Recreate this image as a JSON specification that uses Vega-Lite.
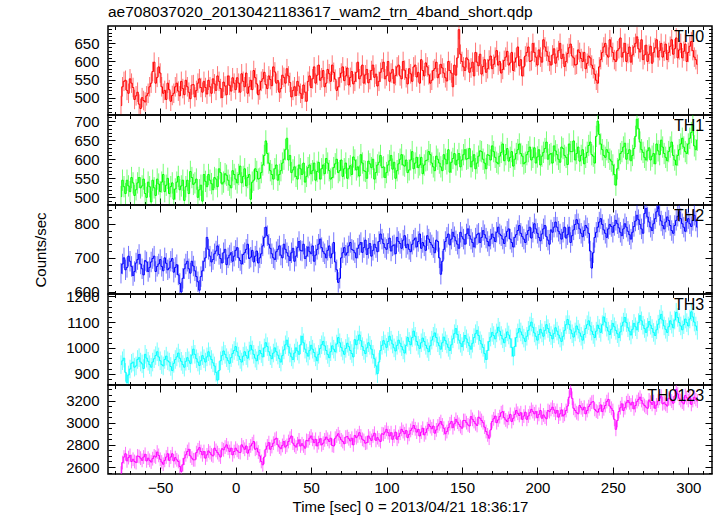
{
"$schema": "https://vega.github.io/schema/vega-lite/v6.json",
"background": "white",
"padding": {"left": 33, "top": 4, "right": 0, "bottom": 0},
"datasets": {
"errs": [{"band":"TH0","err":27},{"band":"TH1","err":28},{"band":"TH2","err":30},{"band":"TH3","err":36},{"band":"TH0123","err":62}],
"rates": [
{"t":-76,"TH0":478,"TH1":502,"TH2":655,"TH3":935,"TH0123":2545},
{"t":-75,"TH0":530,"TH1":545,"TH2":682,"TH3":950,"TH0123":2640},
{"t":-74,"TH0":545,"TH1":528,"TH2":700,"TH3":960,"TH0123":2690},
{"t":-73,"TH0":548,"TH1":510,"TH2":665,"TH3":905,"TH0123":2720},
{"t":-72,"TH0":520,"TH1":545,"TH2":672,"TH3":865,"TH0123":2655},
{"t":-71,"TH0":512,"TH1":530,"TH2":705,"TH3":895,"TH0123":2685},
{"t":-70,"TH0":552,"TH1":515,"TH2":690,"TH3":918,"TH0123":2705},
{"t":-69,"TH0":540,"TH1":552,"TH2":675,"TH3":940,"TH0123":2650},
{"t":-68,"TH0":528,"TH1":538,"TH2":648,"TH3":945,"TH0123":2670},
{"t":-67,"TH0":495,"TH1":505,"TH2":660,"TH3":925,"TH0123":2650},
{"t":-66,"TH0":505,"TH1":520,"TH2":685,"TH3":930,"TH0123":2640},
{"t":-65,"TH0":515,"TH1":538,"TH2":695,"TH3":955,"TH0123":2700},
{"t":-64,"TH0":482,"TH1":552,"TH2":710,"TH3":962,"TH0123":2695},
{"t":-63,"TH0":470,"TH1":525,"TH2":682,"TH3":945,"TH0123":2680},
{"t":-62,"TH0":500,"TH1":530,"TH2":668,"TH3":938,"TH0123":2660},
{"t":-61,"TH0":492,"TH1":548,"TH2":650,"TH3":920,"TH0123":2690},
{"t":-60,"TH0":488,"TH1":510,"TH2":692,"TH3":975,"TH0123":2715},
{"t":-59,"TH0":505,"TH1":500,"TH2":688,"TH3":960,"TH0123":2655},
{"t":-58,"TH0":512,"TH1":540,"TH2":660,"TH3":948,"TH0123":2680},
{"t":-57,"TH0":530,"TH1":528,"TH2":672,"TH3":935,"TH0123":2660},
{"t":-56,"TH0":540,"TH1":488,"TH2":688,"TH3":925,"TH0123":2645},
{"t":-55,"TH0":572,"TH1":545,"TH2":698,"TH3":945,"TH0123":2675},
{"t":-54,"TH0":598,"TH1":525,"TH2":705,"TH3":958,"TH0123":2700},
{"t":-53,"TH0":540,"TH1":505,"TH2":660,"TH3":970,"TH0123":2690},
{"t":-52,"TH0":556,"TH1":548,"TH2":675,"TH3":985,"TH0123":2735},
{"t":-51,"TH0":585,"TH1":535,"TH2":682,"TH3":965,"TH0123":2705},
{"t":-50,"TH0":568,"TH1":515,"TH2":695,"TH3":950,"TH0123":2670},
{"t":-49,"TH0":530,"TH1":540,"TH2":675,"TH3":935,"TH0123":2645},
{"t":-48,"TH0":512,"TH1":560,"TH2":662,"TH3":930,"TH0123":2625},
{"t":-47,"TH0":520,"TH1":515,"TH2":700,"TH3":955,"TH0123":2660},
{"t":-46,"TH0":495,"TH1":532,"TH2":684,"TH3":968,"TH0123":2690},
{"t":-45,"TH0":540,"TH1":550,"TH2":665,"TH3":950,"TH0123":2720},
{"t":-44,"TH0":522,"TH1":510,"TH2":670,"TH3":945,"TH0123":2660},
{"t":-43,"TH0":490,"TH1":528,"TH2":690,"TH3":928,"TH0123":2690},
{"t":-42,"TH0":506,"TH1":538,"TH2":698,"TH3":912,"TH0123":2720},
{"t":-41,"TH0":512,"TH1":495,"TH2":658,"TH3":940,"TH0123":2655},
{"t":-40,"TH0":530,"TH1":522,"TH2":672,"TH3":955,"TH0123":2685},
{"t":-39,"TH0":540,"TH1":540,"TH2":680,"TH3":965,"TH0123":2665},
{"t":-38,"TH0":518,"TH1":555,"TH2":650,"TH3":980,"TH0123":2650},
{"t":-37,"TH0":505,"TH1":520,"TH2":625,"TH3":960,"TH0123":2605},
{"t":-36,"TH0":545,"TH1":530,"TH2":600,"TH3":948,"TH0123":2560},
{"t":-35,"TH0":525,"TH1":545,"TH2":640,"TH3":935,"TH0123":2620},
{"t":-34,"TH0":508,"TH1":492,"TH2":668,"TH3":925,"TH0123":2680},
{"t":-33,"TH0":548,"TH1":528,"TH2":682,"TH3":948,"TH0123":2710},
{"t":-32,"TH0":530,"TH1":545,"TH2":690,"TH3":962,"TH0123":2740},
{"t":-31,"TH0":515,"TH1":510,"TH2":668,"TH3":950,"TH0123":2760},
{"t":-30,"TH0":497,"TH1":568,"TH2":655,"TH3":940,"TH0123":2700},
{"t":-29,"TH0":535,"TH1":552,"TH2":690,"TH3":972,"TH0123":2680},
{"t":-28,"TH0":536,"TH1":534,"TH2":676,"TH3":995,"TH0123":2665},
{"t":-27,"TH0":502,"TH1":538,"TH2":662,"TH3":975,"TH0123":2665},
{"t":-26,"TH0":520,"TH1":548,"TH2":645,"TH3":958,"TH0123":2730},
{"t":-25,"TH0":540,"TH1":500,"TH2":630,"TH3":945,"TH0123":2755},
{"t":-24,"TH0":552,"TH1":520,"TH2":605,"TH3":932,"TH0123":2775},
{"t":-23,"TH0":528,"TH1":532,"TH2":645,"TH3":950,"TH0123":2740},
{"t":-22,"TH0":515,"TH1":490,"TH2":662,"TH3":970,"TH0123":2710},
{"t":-21,"TH0":545,"TH1":560,"TH2":690,"TH3":958,"TH0123":2740},
{"t":-20,"TH0":528,"TH1":542,"TH2":700,"TH3":945,"TH0123":2680},
{"t":-19,"TH0":510,"TH1":528,"TH2":760,"TH3":965,"TH0123":2710},
{"t":-18,"TH0":548,"TH1":560,"TH2":725,"TH3":985,"TH0123":2745},
{"t":-17,"TH0":530,"TH1":545,"TH2":705,"TH3":968,"TH0123":2730},
{"t":-16,"TH0":512,"TH1":536,"TH2":688,"TH3":955,"TH0123":2710},
{"t":-15,"TH0":552,"TH1":520,"TH2":695,"TH3":942,"TH0123":2700},
{"t":-14,"TH0":538,"TH1":552,"TH2":712,"TH3":930,"TH0123":2770},
{"t":-13,"TH0":520,"TH1":548,"TH2":720,"TH3":905,"TH0123":2750},
{"t":-12,"TH0":560,"TH1":528,"TH2":735,"TH3":875,"TH0123":2730},
{"t":-11,"TH0":545,"TH1":575,"TH2":710,"TH3":912,"TH0123":2710},
{"t":-10,"TH0":525,"TH1":565,"TH2":698,"TH3":950,"TH0123":2690},
{"t":-9,"TH0":500,"TH1":535,"TH2":685,"TH3":970,"TH0123":2765},
{"t":-8,"TH0":543,"TH1":540,"TH2":715,"TH3":988,"TH0123":2755},
{"t":-7,"TH0":532,"TH1":562,"TH2":725,"TH3":975,"TH0123":2780},
{"t":-6,"TH0":508,"TH1":558,"TH2":680,"TH3":962,"TH0123":2800},
{"t":-5,"TH0":560,"TH1":545,"TH2":700,"TH3":950,"TH0123":2770},
{"t":-4,"TH0":534,"TH1":532,"TH2":708,"TH3":940,"TH0123":2740},
{"t":-3,"TH0":518,"TH1":525,"TH2":715,"TH3":962,"TH0123":2770},
{"t":-2,"TH0":555,"TH1":570,"TH2":690,"TH3":978,"TH0123":2710},
{"t":-1,"TH0":540,"TH1":560,"TH2":705,"TH3":990,"TH0123":2740},
{"t":0,"TH0":522,"TH1":548,"TH2":722,"TH3":1005,"TH0123":2770},
{"t":1,"TH0":555,"TH1":538,"TH2":730,"TH3":985,"TH0123":2750},
{"t":2,"TH0":540,"TH1":560,"TH2":700,"TH3":968,"TH0123":2735},
{"t":3,"TH0":515,"TH1":582,"TH2":692,"TH3":955,"TH0123":2730},
{"t":4,"TH0":566,"TH1":538,"TH2":682,"TH3":945,"TH0123":2800},
{"t":5,"TH0":545,"TH1":555,"TH2":710,"TH3":968,"TH0123":2780},
{"t":6,"TH0":530,"TH1":575,"TH2":715,"TH3":985,"TH0123":2760},
{"t":7,"TH0":568,"TH1":530,"TH2":725,"TH3":970,"TH0123":2790},
{"t":8,"TH0":512,"TH1":552,"TH2":740,"TH3":960,"TH0123":2725},
{"t":9,"TH0":530,"TH1":560,"TH2":698,"TH3":988,"TH0123":2755},
{"t":10,"TH0":548,"TH1":495,"TH2":702,"TH3":1010,"TH0123":2790},
{"t":11,"TH0":522,"TH1":540,"TH2":722,"TH3":992,"TH0123":2810},
{"t":12,"TH0":575,"TH1":545,"TH2":688,"TH3":975,"TH0123":2830},
{"t":13,"TH0":555,"TH1":575,"TH2":705,"TH3":960,"TH0123":2760},
{"t":14,"TH0":538,"TH1":568,"TH2":720,"TH3":950,"TH0123":2770},
{"t":15,"TH0":508,"TH1":548,"TH2":685,"TH3":972,"TH0123":2735},
{"t":16,"TH0":521,"TH1":550,"TH2":700,"TH3":990,"TH0123":2700},
{"t":17,"TH0":545,"TH1":565,"TH2":712,"TH3":978,"TH0123":2650},
{"t":18,"TH0":552,"TH1":585,"TH2":735,"TH3":965,"TH0123":2620},
{"t":19,"TH0":570,"TH1":610,"TH2":760,"TH3":1000,"TH0123":2690},
{"t":20,"TH0":536,"TH1":648,"TH2":790,"TH3":1020,"TH0123":2760},
{"t":21,"TH0":525,"TH1":615,"TH2":765,"TH3":1005,"TH0123":2790},
{"t":22,"TH0":560,"TH1":590,"TH2":740,"TH3":985,"TH0123":2820},
{"t":23,"TH0":550,"TH1":570,"TH2":728,"TH3":970,"TH0123":2760},
{"t":24,"TH0":533,"TH1":560,"TH2":712,"TH3":958,"TH0123":2785},
{"t":25,"TH0":585,"TH1":548,"TH2":700,"TH3":980,"TH0123":2815},
{"t":26,"TH0":571,"TH1":575,"TH2":695,"TH3":1000,"TH0123":2850},
{"t":27,"TH0":540,"TH1":585,"TH2":718,"TH3":985,"TH0123":2860},
{"t":28,"TH0":547,"TH1":545,"TH2":725,"TH3":972,"TH0123":2800},
{"t":29,"TH0":515,"TH1":560,"TH2":735,"TH3":958,"TH0123":2780},
{"t":30,"TH0":525,"TH1":570,"TH2":708,"TH3":945,"TH0123":2765},
{"t":31,"TH0":562,"TH1":590,"TH2":700,"TH3":970,"TH0123":2795},
{"t":32,"TH0":556,"TH1":600,"TH2":740,"TH3":992,"TH0123":2830},
{"t":33,"TH0":540,"TH1":625,"TH2":725,"TH3":1012,"TH0123":2780},
{"t":34,"TH0":580,"TH1":655,"TH2":715,"TH3":1030,"TH0123":2795},
{"t":35,"TH0":560,"TH1":598,"TH2":705,"TH3":1005,"TH0123":2830},
{"t":36,"TH0":542,"TH1":610,"TH2":692,"TH3":980,"TH0123":2860},
{"t":37,"TH0":502,"TH1":565,"TH2":715,"TH3":965,"TH0123":2880},
{"t":38,"TH0":520,"TH1":572,"TH2":728,"TH3":955,"TH0123":2815},
{"t":39,"TH0":530,"TH1":580,"TH2":690,"TH3":980,"TH0123":2795},
{"t":40,"TH0":506,"TH1":555,"TH2":705,"TH3":1000,"TH0123":2780},
{"t":41,"TH0":545,"TH1":548,"TH2":730,"TH3":988,"TH0123":2810},
{"t":42,"TH0":532,"TH1":585,"TH2":748,"TH3":975,"TH0123":2845},
{"t":43,"TH0":512,"TH1":575,"TH2":722,"TH3":1012,"TH0123":2790},
{"t":44,"TH0":498,"TH1":560,"TH2":720,"TH3":1045,"TH0123":2810},
{"t":45,"TH0":535,"TH1":590,"TH2":740,"TH3":1020,"TH0123":2790},
{"t":46,"TH0":515,"TH1":540,"TH2":698,"TH3":995,"TH0123":2770},
{"t":47,"TH0":490,"TH1":555,"TH2":705,"TH3":980,"TH0123":2840},
{"t":48,"TH0":545,"TH1":578,"TH2":732,"TH3":968,"TH0123":2835},
{"t":49,"TH0":560,"TH1":585,"TH2":718,"TH3":990,"TH0123":2860},
{"t":50,"TH0":528,"TH1":562,"TH2":712,"TH3":1010,"TH0123":2880},
{"t":51,"TH0":552,"TH1":570,"TH2":735,"TH3":995,"TH0123":2850},
{"t":52,"TH0":585,"TH1":590,"TH2":690,"TH3":982,"TH0123":2820},
{"t":53,"TH0":540,"TH1":545,"TH2":708,"TH3":965,"TH0123":2850},
{"t":54,"TH0":562,"TH1":568,"TH2":725,"TH3":950,"TH0123":2790},
{"t":55,"TH0":590,"TH1":592,"TH2":740,"TH3":975,"TH0123":2820},
{"t":56,"TH0":548,"TH1":548,"TH2":755,"TH3":998,"TH0123":2855},
{"t":57,"TH0":555,"TH1":575,"TH2":730,"TH3":1012,"TH0123":2800},
{"t":58,"TH0":575,"TH1":585,"TH2":718,"TH3":1025,"TH0123":2815},
{"t":59,"TH0":530,"TH1":562,"TH2":712,"TH3":1008,"TH0123":2845},
{"t":60,"TH0":540,"TH1":602,"TH2":700,"TH3":990,"TH0123":2870},
{"t":61,"TH0":578,"TH1":590,"TH2":722,"TH3":975,"TH0123":2850},
{"t":62,"TH0":566,"TH1":570,"TH2":735,"TH3":962,"TH0123":2830},
{"t":63,"TH0":545,"TH1":548,"TH2":700,"TH3":985,"TH0123":2860},
{"t":64,"TH0":590,"TH1":552,"TH2":712,"TH3":1008,"TH0123":2795},
{"t":65,"TH0":570,"TH1":578,"TH2":745,"TH3":995,"TH0123":2790},
{"t":66,"TH0":551,"TH1":588,"TH2":688,"TH3":985,"TH0123":2860},
{"t":67,"TH0":520,"TH1":600,"TH2":665,"TH3":1015,"TH0123":2880},
{"t":68,"TH0":530,"TH1":565,"TH2":628,"TH3":1040,"TH0123":2900},
{"t":69,"TH0":555,"TH1":570,"TH2":640,"TH3":1020,"TH0123":2870},
{"t":70,"TH0":568,"TH1":598,"TH2":700,"TH3":1002,"TH0123":2845},
{"t":71,"TH0":585,"TH1":555,"TH2":715,"TH3":988,"TH0123":2830},
{"t":72,"TH0":547,"TH1":575,"TH2":730,"TH3":975,"TH0123":2810},
{"t":73,"TH0":560,"TH1":590,"TH2":708,"TH3":998,"TH0123":2870},
{"t":74,"TH0":582,"TH1":550,"TH2":715,"TH3":1018,"TH0123":2875},
{"t":75,"TH0":535,"TH1":575,"TH2":735,"TH3":1005,"TH0123":2855},
{"t":76,"TH0":556,"TH1":583,"TH2":745,"TH3":990,"TH0123":2835},
{"t":77,"TH0":572,"TH1":560,"TH2":725,"TH3":978,"TH0123":2860},
{"t":78,"TH0":538,"TH1":606,"TH2":722,"TH3":965,"TH0123":2800},
{"t":79,"TH0":545,"TH1":598,"TH2":715,"TH3":1032,"TH0123":2885},
{"t":80,"TH0":570,"TH1":572,"TH2":700,"TH3":1012,"TH0123":2865},
{"t":81,"TH0":598,"TH1":580,"TH2":728,"TH3":1030,"TH0123":2880},
{"t":82,"TH0":552,"TH1":556,"TH2":738,"TH3":1050,"TH0123":2910},
{"t":83,"TH0":560,"TH1":612,"TH2":745,"TH3":1028,"TH0123":2880},
{"t":84,"TH0":590,"TH1":590,"TH2":716,"TH3":1005,"TH0123":2850},
{"t":85,"TH0":540,"TH1":570,"TH2":730,"TH3":990,"TH0123":2840},
{"t":86,"TH0":563,"TH1":568,"TH2":752,"TH3":978,"TH0123":2815},
{"t":87,"TH0":578,"TH1":550,"TH2":710,"TH3":1000,"TH0123":2820},
{"t":88,"TH0":541,"TH1":595,"TH2":728,"TH3":1020,"TH0123":2880},
{"t":89,"TH0":550,"TH1":588,"TH2":742,"TH3":1010,"TH0123":2860},
{"t":90,"TH0":575,"TH1":578,"TH2":705,"TH3":995,"TH0123":2840},
{"t":91,"TH0":590,"TH1":600,"TH2":722,"TH3":975,"TH0123":2880},
{"t":92,"TH0":556,"TH1":548,"TH2":740,"TH3":958,"TH0123":2905},
{"t":93,"TH0":565,"TH1":565,"TH2":730,"TH3":930,"TH0123":2840},
{"t":94,"TH0":532,"TH1":585,"TH2":718,"TH3":900,"TH0123":2865},
{"t":95,"TH0":545,"TH1":592,"TH2":748,"TH3":945,"TH0123":2845},
{"t":96,"TH0":570,"TH1":610,"TH2":770,"TH3":990,"TH0123":2830},
{"t":97,"TH0":580,"TH1":578,"TH2":755,"TH3":1010,"TH0123":2900},
{"t":98,"TH0":598,"TH1":580,"TH2":742,"TH3":1028,"TH0123":2895},
{"t":99,"TH0":552,"TH1":552,"TH2":730,"TH3":1015,"TH0123":2915},
{"t":100,"TH0":560,"TH1":565,"TH2":725,"TH3":1002,"TH0123":2940},
{"t":101,"TH0":600,"TH1":585,"TH2":742,"TH3":1025,"TH0123":2910},
{"t":102,"TH0":545,"TH1":596,"TH2":758,"TH3":1045,"TH0123":2880},
{"t":103,"TH0":568,"TH1":610,"TH2":720,"TH3":1030,"TH0123":2910},
{"t":104,"TH0":578,"TH1":574,"TH2":735,"TH3":1015,"TH0123":2850},
{"t":105,"TH0":540,"TH1":592,"TH2":738,"TH3":1000,"TH0123":2880},
{"t":106,"TH0":561,"TH1":550,"TH2":712,"TH3":988,"TH0123":2915},
{"t":107,"TH0":585,"TH1":570,"TH2":760,"TH3":1010,"TH0123":2850},
{"t":108,"TH0":590,"TH1":588,"TH2":748,"TH3":1030,"TH0123":2875},
{"t":109,"TH0":560,"TH1":600,"TH2":742,"TH3":1018,"TH0123":2905},
{"t":110,"TH0":552,"TH1":612,"TH2":728,"TH3":1005,"TH0123":2940},
{"t":111,"TH0":600,"TH1":585,"TH2":752,"TH3":992,"TH0123":2920},
{"t":112,"TH0":576,"TH1":582,"TH2":765,"TH3":980,"TH0123":2900},
{"t":113,"TH0":555,"TH1":598,"TH2":730,"TH3":1010,"TH0123":2930},
{"t":114,"TH0":538,"TH1":565,"TH2":740,"TH3":1040,"TH0123":2865},
{"t":115,"TH0":580,"TH1":572,"TH2":725,"TH3":1025,"TH0123":2895},
{"t":116,"TH0":566,"TH1":598,"TH2":718,"TH3":1012,"TH0123":2930},
{"t":117,"TH0":545,"TH1":620,"TH2":740,"TH3":1040,"TH0123":2950},
{"t":118,"TH0":585,"TH1":575,"TH2":752,"TH3":1065,"TH0123":2975},
{"t":119,"TH0":590,"TH1":590,"TH2":758,"TH3":1045,"TH0123":2945},
{"t":120,"TH0":557,"TH1":605,"TH2":732,"TH3":1025,"TH0123":2915},
{"t":121,"TH0":570,"TH1":578,"TH2":748,"TH3":1010,"TH0123":2940},
{"t":122,"TH0":540,"TH1":585,"TH2":770,"TH3":998,"TH0123":2880},
{"t":123,"TH0":605,"TH1":605,"TH2":728,"TH3":1020,"TH0123":2915},
{"t":124,"TH0":575,"TH1":562,"TH2":745,"TH3":1038,"TH0123":2950},
{"t":125,"TH0":560,"TH1":585,"TH2":735,"TH3":1025,"TH0123":2890},
{"t":126,"TH0":596,"TH1":596,"TH2":722,"TH3":1010,"TH0123":2910},
{"t":127,"TH0":585,"TH1":598,"TH2":765,"TH3":998,"TH0123":2945},
{"t":128,"TH0":563,"TH1":620,"TH2":755,"TH3":985,"TH0123":2985},
{"t":129,"TH0":540,"TH1":612,"TH2":745,"TH3":1008,"TH0123":2965},
{"t":130,"TH0":548,"TH1":590,"TH2":738,"TH3":1030,"TH0123":2945},
{"t":131,"TH0":575,"TH1":580,"TH2":730,"TH3":1045,"TH0123":2970},
{"t":132,"TH0":580,"TH1":570,"TH2":715,"TH3":1058,"TH0123":2905},
{"t":133,"TH0":598,"TH1":608,"TH2":752,"TH3":1040,"TH0123":2935},
{"t":134,"TH0":555,"TH1":600,"TH2":748,"TH3":1020,"TH0123":2970},
{"t":135,"TH0":565,"TH1":590,"TH2":700,"TH3":1008,"TH0123":2990},
{"t":136,"TH0":592,"TH1":580,"TH2":652,"TH3":995,"TH0123":3010},
{"t":137,"TH0":582,"TH1":570,"TH2":690,"TH3":1020,"TH0123":2980},
{"t":138,"TH0":568,"TH1":612,"TH2":725,"TH3":1042,"TH0123":2950},
{"t":139,"TH0":555,"TH1":600,"TH2":748,"TH3":1028,"TH0123":2900},
{"t":140,"TH0":546,"TH1":588,"TH2":760,"TH3":1015,"TH0123":2920},
{"t":141,"TH0":600,"TH1":625,"TH2":770,"TH3":1002,"TH0123":2955},
{"t":142,"TH0":575,"TH1":566,"TH2":738,"TH3":990,"TH0123":2990},
{"t":143,"TH0":568,"TH1":592,"TH2":755,"TH3":1012,"TH0123":3010},
{"t":144,"TH0":530,"TH1":602,"TH2":775,"TH3":1035,"TH0123":2955},
{"t":145,"TH0":590,"TH1":615,"TH2":762,"TH3":1055,"TH0123":2990},
{"t":146,"TH0":562,"TH1":585,"TH2":750,"TH3":1075,"TH0123":3030},
{"t":147,"TH0":610,"TH1":598,"TH2":740,"TH3":1052,"TH0123":3005},
{"t":148,"TH0":688,"TH1":615,"TH2":728,"TH3":1030,"TH0123":2985},
{"t":149,"TH0":620,"TH1":580,"TH2":775,"TH3":1018,"TH0123":2965},
{"t":150,"TH0":600,"TH1":598,"TH2":762,"TH3":1005,"TH0123":2950},
{"t":151,"TH0":585,"TH1":612,"TH2":755,"TH3":1025,"TH0123":3020},
{"t":152,"TH0":575,"TH1":625,"TH2":740,"TH3":1048,"TH0123":3020},
{"t":153,"TH0":610,"TH1":600,"TH2":770,"TH3":1035,"TH0123":3000},
{"t":154,"TH0":605,"TH1":602,"TH2":785,"TH3":1020,"TH0123":2980},
{"t":155,"TH0":570,"TH1":628,"TH2":765,"TH3":1008,"TH0123":2970},
{"t":156,"TH0":582,"TH1":580,"TH2":755,"TH3":995,"TH0123":3055},
{"t":157,"TH0":598,"TH1":595,"TH2":745,"TH3":1018,"TH0123":3030},
{"t":158,"TH0":560,"TH1":612,"TH2":732,"TH3":1040,"TH0123":3010},
{"t":159,"TH0":625,"TH1":575,"TH2":758,"TH3":1055,"TH0123":2990},
{"t":160,"TH0":598,"TH1":590,"TH2":768,"TH3":1068,"TH0123":2975},
{"t":161,"TH0":588,"TH1":608,"TH2":772,"TH3":1048,"TH0123":3050},
{"t":162,"TH0":620,"TH1":622,"TH2":745,"TH3":1028,"TH0123":3040},
{"t":163,"TH0":565,"TH1":620,"TH2":760,"TH3":1015,"TH0123":3020},
{"t":164,"TH0":586,"TH1":600,"TH2":780,"TH3":1002,"TH0123":3000},
{"t":165,"TH0":605,"TH1":590,"TH2":768,"TH3":978,"TH0123":2960},
{"t":166,"TH0":570,"TH1":575,"TH2":758,"TH3":955,"TH0123":2920},
{"t":167,"TH0":580,"TH1":612,"TH2":748,"TH3":990,"TH0123":2890},
{"t":168,"TH0":604,"TH1":610,"TH2":735,"TH3":1025,"TH0123":2860},
{"t":169,"TH0":615,"TH1":598,"TH2":755,"TH3":1042,"TH0123":2935},
{"t":170,"TH0":580,"TH1":635,"TH2":770,"TH3":1060,"TH0123":3010},
{"t":171,"TH0":592,"TH1":620,"TH2":760,"TH3":1048,"TH0123":3035},
{"t":172,"TH0":612,"TH1":605,"TH2":748,"TH3":1035,"TH0123":3060},
{"t":173,"TH0":630,"TH1":592,"TH2":775,"TH3":1058,"TH0123":3000},
{"t":174,"TH0":590,"TH1":588,"TH2":790,"TH3":1080,"TH0123":3025},
{"t":175,"TH0":600,"TH1":608,"TH2":770,"TH3":1065,"TH0123":3055},
{"t":176,"TH0":568,"TH1":618,"TH2":765,"TH3":1048,"TH0123":3090},
{"t":177,"TH0":578,"TH1":640,"TH2":755,"TH3":1035,"TH0123":3100},
{"t":178,"TH0":603,"TH1":596,"TH2":742,"TH3":1020,"TH0123":3045},
{"t":179,"TH0":612,"TH1":612,"TH2":762,"TH3":1040,"TH0123":3025},
{"t":180,"TH0":628,"TH1":628,"TH2":778,"TH3":1062,"TH0123":3010},
{"t":181,"TH0":590,"TH1":595,"TH2":785,"TH3":1050,"TH0123":3040},
{"t":182,"TH0":596,"TH1":605,"TH2":755,"TH3":1035,"TH0123":3075},
{"t":183,"TH0":625,"TH1":620,"TH2":745,"TH3":1002,"TH0123":3010},
{"t":184,"TH0":575,"TH1":582,"TH2":732,"TH3":968,"TH0123":3040},
{"t":185,"TH0":598,"TH1":600,"TH2":760,"TH3":1005,"TH0123":3075},
{"t":186,"TH0":610,"TH1":615,"TH2":768,"TH3":1040,"TH0123":3110},
{"t":187,"TH0":640,"TH1":625,"TH2":780,"TH3":1058,"TH0123":3085},
{"t":188,"TH0":588,"TH1":640,"TH2":795,"TH3":1075,"TH0123":3065},
{"t":189,"TH0":605,"TH1":615,"TH2":772,"TH3":1062,"TH0123":3090},
{"t":190,"TH0":560,"TH1":608,"TH2":762,"TH3":1050,"TH0123":3030},
{"t":191,"TH0":585,"TH1":588,"TH2":755,"TH3":1038,"TH0123":3060},
{"t":192,"TH0":615,"TH1":592,"TH2":745,"TH3":1025,"TH0123":3095},
{"t":193,"TH0":625,"TH1":612,"TH2":768,"TH3":1045,"TH0123":3030},
{"t":194,"TH0":640,"TH1":620,"TH2":780,"TH3":1068,"TH0123":3060},
{"t":195,"TH0":600,"TH1":632,"TH2":790,"TH3":1085,"TH0123":3090},
{"t":196,"TH0":602,"TH1":598,"TH2":758,"TH3":1100,"TH0123":3120},
{"t":197,"TH0":650,"TH1":605,"TH2":775,"TH3":1080,"TH0123":3100},
{"t":198,"TH0":625,"TH1":630,"TH2":800,"TH3":1058,"TH0123":3080},
{"t":199,"TH0":612,"TH1":590,"TH2":785,"TH3":1045,"TH0123":3100},
{"t":200,"TH0":590,"TH1":606,"TH2":772,"TH3":1030,"TH0123":3045},
{"t":201,"TH0":632,"TH1":625,"TH2":760,"TH3":1052,"TH0123":3075},
{"t":202,"TH0":612,"TH1":585,"TH2":750,"TH3":1072,"TH0123":3110},
{"t":203,"TH0":598,"TH1":608,"TH2":770,"TH3":1058,"TH0123":3040},
{"t":204,"TH0":660,"TH1":618,"TH2":785,"TH3":1045,"TH0123":3070},
{"t":205,"TH0":640,"TH1":628,"TH2":795,"TH3":1068,"TH0123":3050},
{"t":206,"TH0":628,"TH1":645,"TH2":762,"TH3":1090,"TH0123":3035},
{"t":207,"TH0":615,"TH1":600,"TH2":752,"TH3":1075,"TH0123":3110},
{"t":208,"TH0":600,"TH1":612,"TH2":740,"TH3":1060,"TH0123":3100},
{"t":209,"TH0":590,"TH1":615,"TH2":782,"TH3":1048,"TH0123":3120},
{"t":210,"TH0":618,"TH1":590,"TH2":775,"TH3":1035,"TH0123":3140},
{"t":211,"TH0":635,"TH1":635,"TH2":790,"TH3":1055,"TH0123":3115},
{"t":212,"TH0":595,"TH1":622,"TH2":805,"TH3":1078,"TH0123":3085},
{"t":213,"TH0":612,"TH1":612,"TH2":790,"TH3":1065,"TH0123":3110},
{"t":214,"TH0":630,"TH1":600,"TH2":778,"TH3":1050,"TH0123":3050},
{"t":215,"TH0":650,"TH1":592,"TH2":770,"TH3":1038,"TH0123":3080},
{"t":216,"TH0":608,"TH1":632,"TH2":755,"TH3":1025,"TH0123":3115},
{"t":217,"TH0":620,"TH1":628,"TH2":775,"TH3":1045,"TH0123":3060},
{"t":218,"TH0":586,"TH1":610,"TH2":790,"TH3":1068,"TH0123":3075},
{"t":219,"TH0":600,"TH1":605,"TH2":758,"TH3":1090,"TH0123":3110},
{"t":220,"TH0":622,"TH1":586,"TH2":768,"TH3":1110,"TH0123":3150},
{"t":221,"TH0":638,"TH1":640,"TH2":790,"TH3":1090,"TH0123":3230},
{"t":222,"TH0":648,"TH1":620,"TH2":745,"TH3":1070,"TH0123":3310},
{"t":223,"TH0":615,"TH1":620,"TH2":765,"TH3":1055,"TH0123":3220},
{"t":224,"TH0":610,"TH1":648,"TH2":782,"TH3":1042,"TH0123":3130},
{"t":225,"TH0":590,"TH1":598,"TH2":798,"TH3":1062,"TH0123":3110},
{"t":226,"TH0":592,"TH1":615,"TH2":812,"TH3":1085,"TH0123":3090},
{"t":227,"TH0":632,"TH1":632,"TH2":800,"TH3":1072,"TH0123":3080},
{"t":228,"TH0":625,"TH1":595,"TH2":785,"TH3":1058,"TH0123":3155},
{"t":229,"TH0":608,"TH1":610,"TH2":772,"TH3":1045,"TH0123":3135},
{"t":230,"TH0":600,"TH1":625,"TH2":762,"TH3":1030,"TH0123":3115},
{"t":231,"TH0":625,"TH1":588,"TH2":780,"TH3":1052,"TH0123":3140},
{"t":232,"TH0":580,"TH1":605,"TH2":795,"TH3":1075,"TH0123":3080},
{"t":233,"TH0":595,"TH1":618,"TH2":788,"TH3":1090,"TH0123":3110},
{"t":234,"TH0":615,"TH1":636,"TH2":772,"TH3":1105,"TH0123":3145},
{"t":235,"TH0":610,"TH1":645,"TH2":720,"TH3":1085,"TH0123":3165},
{"t":236,"TH0":590,"TH1":612,"TH2":670,"TH3":1065,"TH0123":3185},
{"t":237,"TH0":580,"TH1":608,"TH2":715,"TH3":1052,"TH0123":3190},
{"t":238,"TH0":565,"TH1":590,"TH2":760,"TH3":1040,"TH0123":3120},
{"t":239,"TH0":548,"TH1":660,"TH2":775,"TH3":1065,"TH0123":3105},
{"t":240,"TH0":540,"TH1":700,"TH2":790,"TH3":1088,"TH0123":3095},
{"t":241,"TH0":585,"TH1":665,"TH2":805,"TH3":1075,"TH0123":3125},
{"t":242,"TH0":605,"TH1":640,"TH2":815,"TH3":1060,"TH0123":3160},
{"t":243,"TH0":625,"TH1":625,"TH2":798,"TH3":1090,"TH0123":3100},
{"t":244,"TH0":640,"TH1":610,"TH2":782,"TH3":1120,"TH0123":3125},
{"t":245,"TH0":650,"TH1":605,"TH2":772,"TH3":1100,"TH0123":3155},
{"t":246,"TH0":618,"TH1":625,"TH2":760,"TH3":1080,"TH0123":3190},
{"t":247,"TH0":612,"TH1":618,"TH2":785,"TH3":1065,"TH0123":3210},
{"t":248,"TH0":660,"TH1":600,"TH2":798,"TH3":1052,"TH0123":3150},
{"t":249,"TH0":640,"TH1":595,"TH2":792,"TH3":1072,"TH0123":3130},
{"t":250,"TH0":625,"TH1":585,"TH2":775,"TH3":1095,"TH0123":3110},
{"t":251,"TH0":605,"TH1":560,"TH2":795,"TH3":1082,"TH0123":3030},
{"t":252,"TH0":600,"TH1":532,"TH2":810,"TH3":1068,"TH0123":2940},
{"t":253,"TH0":630,"TH1":575,"TH2":800,"TH3":1055,"TH0123":3020},
{"t":254,"TH0":635,"TH1":598,"TH2":788,"TH3":1040,"TH0123":3100},
{"t":255,"TH0":665,"TH1":615,"TH2":775,"TH3":1062,"TH0123":3135},
{"t":256,"TH0":612,"TH1":620,"TH2":765,"TH3":1085,"TH0123":3170},
{"t":257,"TH0":625,"TH1":632,"TH2":785,"TH3":1100,"TH0123":3110},
{"t":258,"TH0":650,"TH1":642,"TH2":800,"TH3":1118,"TH0123":3135},
{"t":259,"TH0":600,"TH1":600,"TH2":790,"TH3":1098,"TH0123":3180},
{"t":260,"TH0":622,"TH1":615,"TH2":778,"TH3":1078,"TH0123":3200},
{"t":261,"TH0":640,"TH1":625,"TH2":768,"TH3":1065,"TH0123":3180},
{"t":262,"TH0":598,"TH1":596,"TH2":755,"TH3":1050,"TH0123":3160},
{"t":263,"TH0":618,"TH1":610,"TH2":775,"TH3":1072,"TH0123":3185},
{"t":264,"TH0":640,"TH1":628,"TH2":792,"TH3":1095,"TH0123":3125},
{"t":265,"TH0":650,"TH1":660,"TH2":808,"TH3":1082,"TH0123":3155},
{"t":266,"TH0":668,"TH1":705,"TH2":825,"TH3":1070,"TH0123":3190},
{"t":267,"TH0":635,"TH1":680,"TH2":812,"TH3":1098,"TH0123":3210},
{"t":268,"TH0":626,"TH1":645,"TH2":798,"TH3":1125,"TH0123":3230},
{"t":269,"TH0":660,"TH1":625,"TH2":785,"TH3":1105,"TH0123":3200},
{"t":270,"TH0":605,"TH1":618,"TH2":772,"TH3":1088,"TH0123":3170},
{"t":271,"TH0":618,"TH1":605,"TH2":830,"TH3":1075,"TH0123":3155},
{"t":272,"TH0":645,"TH1":598,"TH2":845,"TH3":1060,"TH0123":3140},
{"t":273,"TH0":600,"TH1":622,"TH2":820,"TH3":1080,"TH0123":3130},
{"t":274,"TH0":620,"TH1":630,"TH2":805,"TH3":1102,"TH0123":3205},
{"t":275,"TH0":642,"TH1":598,"TH2":790,"TH3":1088,"TH0123":3185},
{"t":276,"TH0":595,"TH1":608,"TH2":780,"TH3":1075,"TH0123":3165},
{"t":277,"TH0":625,"TH1":615,"TH2":800,"TH3":1060,"TH0123":3190},
{"t":278,"TH0":638,"TH1":588,"TH2":815,"TH3":1048,"TH0123":3130},
{"t":279,"TH0":660,"TH1":640,"TH2":835,"TH3":1070,"TH0123":3160},
{"t":280,"TH0":612,"TH1":622,"TH2":850,"TH3":1092,"TH0123":3195},
{"t":281,"TH0":630,"TH1":612,"TH2":825,"TH3":1112,"TH0123":3220},
{"t":282,"TH0":650,"TH1":650,"TH2":808,"TH3":1130,"TH0123":3240},
{"t":283,"TH0":612,"TH1":632,"TH2":795,"TH3":1108,"TH0123":3170},
{"t":284,"TH0":628,"TH1":615,"TH2":785,"TH3":1085,"TH0123":3180},
{"t":285,"TH0":648,"TH1":605,"TH2":805,"TH3":1072,"TH0123":3165},
{"t":286,"TH0":605,"TH1":596,"TH2":820,"TH3":1060,"TH0123":3150},
{"t":287,"TH0":625,"TH1":620,"TH2":810,"TH3":1082,"TH0123":3220},
{"t":288,"TH0":642,"TH1":632,"TH2":795,"TH3":1105,"TH0123":3215},
{"t":289,"TH0":660,"TH1":645,"TH2":780,"TH3":1092,"TH0123":3195},
{"t":290,"TH0":620,"TH1":610,"TH2":772,"TH3":1078,"TH0123":3175},
{"t":291,"TH0":635,"TH1":598,"TH2":795,"TH3":1108,"TH0123":3240},
{"t":292,"TH0":665,"TH1":585,"TH2":810,"TH3":1138,"TH0123":3300},
{"t":293,"TH0":610,"TH1":610,"TH2":822,"TH3":1118,"TH0123":3260},
{"t":294,"TH0":632,"TH1":625,"TH2":835,"TH3":1098,"TH0123":3220},
{"t":295,"TH0":650,"TH1":640,"TH2":815,"TH3":1085,"TH0123":3200},
{"t":296,"TH0":610,"TH1":655,"TH2":800,"TH3":1070,"TH0123":3185},
{"t":297,"TH0":628,"TH1":632,"TH2":790,"TH3":1090,"TH0123":3170},
{"t":298,"TH0":648,"TH1":620,"TH2":778,"TH3":1112,"TH0123":3245},
{"t":299,"TH0":600,"TH1":615,"TH2":805,"TH3":1098,"TH0123":3225},
{"t":300,"TH0":625,"TH1":640,"TH2":815,"TH3":1085,"TH0123":3200},
{"t":301,"TH0":642,"TH1":655,"TH2":800,"TH3":1112,"TH0123":3230},
{"t":302,"TH0":655,"TH1":670,"TH2":792,"TH3":1140,"TH0123":3165},
{"t":303,"TH0":630,"TH1":690,"TH2":810,"TH3":1120,"TH0123":3200},
{"t":304,"TH0":612,"TH1":635,"TH2":825,"TH3":1100,"TH0123":3230},
{"t":305,"TH0":605,"TH1":625,"TH2":808,"TH3":1085,"TH0123":3210},
{"t":306,"TH0":592,"TH1":650,"TH2":790,"TH3":1068,"TH0123":3195}
]
},
"data": {"name": "rates"},
"transform": [
 {"fold": ["TH0","TH1","TH2","TH3","TH0123"], "as": ["band","rate"]},
 {"lookup": "band", "from": {"data": {"name": "errs"}, "key": "band", "fields": ["err"]}}
],
"spacing": 0,
"bounds": "flush",
"vconcat": [
 {
  "width": 604, "height": 89,
  "title": {"text": "ae708037020_20130421183617_wam2_trn_4band_short.qdp", "anchor": "start", "frame": "group", "fontSize": 15.5, "fontWeight": "normal", "font": "Liberation Sans", "color": "#000", "offset": 5},
  "transform": [{"filter": "datum.band === 'TH0'"}],
  "layer": [
   {"mark": {"type": "errorbar", "ticks": false, "color": "#ff0000", "opacity": 0.55, "clip": true},
    "encoding": {
     "x": {"field": "t", "type": "quantitative", "scale": {"domain": [-84.6, 315.7], "nice": false, "zero": false}, "axis": null},
     "y": {"field": "rate", "type": "quantitative", "scale": {"domain": [452, 698], "nice": false, "zero": false}, "axis": {"orient": "left", "values": [500,550,600,650], "format": "d", "ticks": false, "domain": false, "grid": false, "labelPadding": 9, "title": null}},
     "yError": {"field": "err"}}},
   {"mark": {"type": "line", "interpolate": "step", "color": "#ff0000", "strokeWidth": 1, "clip": true},
    "encoding": {
     "x": {"field": "t", "type": "quantitative", "axis": {"orient": "bottom", "values": [-50,0,50,100,150,200,250,300], "labels": false, "domain": false, "grid": false, "tickSize": -7, "title": null}},
     "y": {"field": "rate", "type": "quantitative", "axis": {"orient": "left", "values": [500,550,600,650], "labels": false, "domain": false, "grid": false, "tickSize": -7, "title": null}}}},
   {"mark": {"type": "point", "opacity": 0},
    "encoding": {
     "x": {"field": "t", "type": "quantitative", "axis": {"orient": "top", "values": [-50,0,50,100,150,200,250,300], "labels": false, "domain": false, "grid": false, "tickSize": -7, "title": null}},
     "y": {"field": "rate", "type": "quantitative", "axis": {"orient": "right", "values": [500,550,600,650], "labels": false, "domain": false, "grid": false, "tickSize": -7, "title": null}}}},
   {"mark": {"type": "point", "opacity": 0},
    "encoding": {
     "x": {"field": "t", "type": "quantitative", "axis": {"orient": "bottom", "values": [-80,-70,-60,-40,-30,-20,-10,10,20,30,40,60,70,80,90,110,120,130,140,160,170,180,190,210,220,230,240,260,270,280,290,310], "labels": false, "domain": false, "grid": false, "tickSize": -3.5, "title": null}},
     "y": {"field": "rate", "type": "quantitative", "axis": {"orient": "left", "values": [460,470,480,490,510,520,530,540,560,570,580,590,610,620,630,640,660,670,680,690], "labels": false, "domain": false, "grid": false, "tickSize": -3.5, "title": null}}}},
   {"mark": {"type": "point", "opacity": 0},
    "encoding": {
     "x": {"field": "t", "type": "quantitative", "axis": {"orient": "top", "values": [-80,-70,-60,-40,-30,-20,-10,10,20,30,40,60,70,80,90,110,120,130,140,160,170,180,190,210,220,230,240,260,270,280,290,310], "labels": false, "domain": false, "grid": false, "tickSize": -3.5, "title": null}},
     "y": {"field": "rate", "type": "quantitative", "axis": {"orient": "right", "values": [460,470,480,490,510,520,530,540,560,570,580,590,610,620,630,640,660,670,680,690], "labels": false, "domain": false, "grid": false, "tickSize": -3.5, "title": null}}}},
   {"data": {"values": [{}]},
    "mark": {"type": "text", "align": "right", "baseline": "alphabetic", "fontSize": 16, "font": "Liberation Sans", "color": "#000"},
    "encoding": {"x": {"datum": 310.5, "type": "quantitative", "axis": null}, "y": {"datum": 655, "type": "quantitative", "axis": null}, "text": {"value": "TH0"}}}
  ],
  "resolve": {"axis": {"x": "independent", "y": "independent"}}
 },
 {
  "width": 604, "height": 90,
  "transform": [{"filter": "datum.band === 'TH1'"}],
  "layer": [
   {"mark": {"type": "errorbar", "ticks": false, "color": "#00ff00", "opacity": 0.55, "clip": true},
    "encoding": {
     "x": {"field": "t", "type": "quantitative", "scale": {"domain": [-84.6, 315.7], "nice": false, "zero": false}, "axis": null},
     "y": {"field": "rate", "type": "quantitative", "scale": {"domain": [480, 716], "nice": false, "zero": false}, "axis": {"orient": "left", "values": [500,550,600,650,700], "format": "d", "ticks": false, "domain": false, "grid": false, "labelPadding": 9, "title": null}},
     "yError": {"field": "err"}}},
   {"mark": {"type": "line", "interpolate": "step", "color": "#00ff00", "strokeWidth": 1, "clip": true},
    "encoding": {
     "x": {"field": "t", "type": "quantitative", "axis": {"orient": "bottom", "values": [-50,0,50,100,150,200,250,300], "labels": false, "domain": false, "grid": false, "tickSize": -7, "title": null}},
     "y": {"field": "rate", "type": "quantitative", "axis": {"orient": "left", "values": [500,550,600,650,700], "labels": false, "domain": false, "grid": false, "tickSize": -7, "title": null}}}},
   {"mark": {"type": "point", "opacity": 0},
    "encoding": {
     "x": {"field": "t", "type": "quantitative", "axis": {"orient": "top", "values": [-50,0,50,100,150,200,250,300], "labels": false, "domain": false, "grid": false, "tickSize": -7, "title": null}},
     "y": {"field": "rate", "type": "quantitative", "axis": {"orient": "right", "values": [500,550,600,650,700], "labels": false, "domain": false, "grid": false, "tickSize": -7, "title": null}}}},
   {"mark": {"type": "point", "opacity": 0},
    "encoding": {
     "x": {"field": "t", "type": "quantitative", "axis": {"orient": "bottom", "values": [-80,-70,-60,-40,-30,-20,-10,10,20,30,40,60,70,80,90,110,120,130,140,160,170,180,190,210,220,230,240,260,270,280,290,310], "labels": false, "domain": false, "grid": false, "tickSize": -3.5, "title": null}},
     "y": {"field": "rate", "type": "quantitative", "axis": {"orient": "left", "values": [490,510,520,530,540,560,570,580,590,610,620,630,640,660,670,680,690,710], "labels": false, "domain": false, "grid": false, "tickSize": -3.5, "title": null}}}},
   {"mark": {"type": "point", "opacity": 0},
    "encoding": {
     "x": {"field": "t", "type": "quantitative", "axis": {"orient": "top", "values": [-80,-70,-60,-40,-30,-20,-10,10,20,30,40,60,70,80,90,110,120,130,140,160,170,180,190,210,220,230,240,260,270,280,290,310], "labels": false, "domain": false, "grid": false, "tickSize": -3.5, "title": null}},
     "y": {"field": "rate", "type": "quantitative", "axis": {"orient": "right", "values": [490,510,520,530,540,560,570,580,590,610,620,630,640,660,670,680,690,710], "labels": false, "domain": false, "grid": false, "tickSize": -3.5, "title": null}}}},
   {"data": {"values": [{}]},
    "mark": {"type": "text", "align": "right", "baseline": "alphabetic", "fontSize": 16, "font": "Liberation Sans", "color": "#000"},
    "encoding": {"x": {"datum": 310.5, "type": "quantitative", "axis": null}, "y": {"datum": 675, "type": "quantitative", "axis": null}, "text": {"value": "TH1"}}}
  ],
  "resolve": {"axis": {"x": "independent", "y": "independent"}}
 },
 {
  "width": 604, "height": 89,
  "transform": [{"filter": "datum.band === 'TH2'"}],
  "layer": [
   {"mark": {"type": "errorbar", "ticks": false, "color": "#0000ff", "opacity": 0.55, "clip": true},
    "encoding": {
     "x": {"field": "t", "type": "quantitative", "scale": {"domain": [-84.6, 315.7], "nice": false, "zero": false}, "axis": null},
     "y": {"field": "rate", "type": "quantitative", "scale": {"domain": [594, 855], "nice": false, "zero": false}, "axis": {"orient": "left", "values": [600,700,800], "format": "d", "ticks": false, "domain": false, "grid": false, "labelPadding": 9, "title": "Counts/sec", "titlePadding": 25}},
     "yError": {"field": "err"}}},
   {"mark": {"type": "line", "interpolate": "step", "color": "#0000ff", "strokeWidth": 1, "clip": true},
    "encoding": {
     "x": {"field": "t", "type": "quantitative", "axis": {"orient": "bottom", "values": [-50,0,50,100,150,200,250,300], "labels": false, "domain": false, "grid": false, "tickSize": -7, "title": null}},
     "y": {"field": "rate", "type": "quantitative", "axis": {"orient": "left", "values": [600,700,800], "labels": false, "domain": false, "grid": false, "tickSize": -7, "title": null}}}},
   {"mark": {"type": "point", "opacity": 0},
    "encoding": {
     "x": {"field": "t", "type": "quantitative", "axis": {"orient": "top", "values": [-50,0,50,100,150,200,250,300], "labels": false, "domain": false, "grid": false, "tickSize": -7, "title": null}},
     "y": {"field": "rate", "type": "quantitative", "axis": {"orient": "right", "values": [600,700,800], "labels": false, "domain": false, "grid": false, "tickSize": -7, "title": null}}}},
   {"mark": {"type": "point", "opacity": 0},
    "encoding": {
     "x": {"field": "t", "type": "quantitative", "axis": {"orient": "bottom", "values": [-80,-70,-60,-40,-30,-20,-10,10,20,30,40,60,70,80,90,110,120,130,140,160,170,180,190,210,220,230,240,260,270,280,290,310], "labels": false, "domain": false, "grid": false, "tickSize": -3.5, "title": null}},
     "y": {"field": "rate", "type": "quantitative", "axis": {"orient": "left", "values": [620,640,660,680,720,740,760,780,820,840], "labels": false, "domain": false, "grid": false, "tickSize": -3.5, "title": null}}}},
   {"mark": {"type": "point", "opacity": 0},
    "encoding": {
     "x": {"field": "t", "type": "quantitative", "axis": {"orient": "top", "values": [-80,-70,-60,-40,-30,-20,-10,10,20,30,40,60,70,80,90,110,120,130,140,160,170,180,190,210,220,230,240,260,270,280,290,310], "labels": false, "domain": false, "grid": false, "tickSize": -3.5, "title": null}},
     "y": {"field": "rate", "type": "quantitative", "axis": {"orient": "right", "values": [620,640,660,680,720,740,760,780,820,840], "labels": false, "domain": false, "grid": false, "tickSize": -3.5, "title": null}}}},
   {"data": {"values": [{}]},
    "mark": {"type": "text", "align": "right", "baseline": "alphabetic", "fontSize": 16, "font": "Liberation Sans", "color": "#000"},
    "encoding": {"x": {"datum": 310.5, "type": "quantitative", "axis": null}, "y": {"datum": 809, "type": "quantitative", "axis": null}, "text": {"value": "TH2"}}}
  ],
  "resolve": {"axis": {"x": "independent", "y": "independent"}}
 },
 {
  "width": 604, "height": 91,
  "transform": [{"filter": "datum.band === 'TH3'"}],
  "layer": [
   {"mark": {"type": "errorbar", "ticks": false, "color": "#00ffff", "opacity": 0.55, "clip": true},
    "encoding": {
     "x": {"field": "t", "type": "quantitative", "scale": {"domain": [-84.6, 315.7], "nice": false, "zero": false}, "axis": null},
     "y": {"field": "rate", "type": "quantitative", "scale": {"domain": [856, 1209], "nice": false, "zero": false}, "axis": {"orient": "left", "values": [900,1000,1100,1200], "format": "d", "ticks": false, "domain": false, "grid": false, "labelPadding": 9, "title": null}},
     "yError": {"field": "err"}}},
   {"mark": {"type": "line", "interpolate": "step", "color": "#00ffff", "strokeWidth": 1, "clip": true},
    "encoding": {
     "x": {"field": "t", "type": "quantitative", "axis": {"orient": "bottom", "values": [-50,0,50,100,150,200,250,300], "labels": false, "domain": false, "grid": false, "tickSize": -7, "title": null}},
     "y": {"field": "rate", "type": "quantitative", "axis": {"orient": "left", "values": [900,1000,1100,1200], "labels": false, "domain": false, "grid": false, "tickSize": -7, "title": null}}}},
   {"mark": {"type": "point", "opacity": 0},
    "encoding": {
     "x": {"field": "t", "type": "quantitative", "axis": {"orient": "top", "values": [-50,0,50,100,150,200,250,300], "labels": false, "domain": false, "grid": false, "tickSize": -7, "title": null}},
     "y": {"field": "rate", "type": "quantitative", "axis": {"orient": "right", "values": [900,1000,1100,1200], "labels": false, "domain": false, "grid": false, "tickSize": -7, "title": null}}}},
   {"mark": {"type": "point", "opacity": 0},
    "encoding": {
     "x": {"field": "t", "type": "quantitative", "axis": {"orient": "bottom", "values": [-80,-70,-60,-40,-30,-20,-10,10,20,30,40,60,70,80,90,110,120,130,140,160,170,180,190,210,220,230,240,260,270,280,290,310], "labels": false, "domain": false, "grid": false, "tickSize": -3.5, "title": null}},
     "y": {"field": "rate", "type": "quantitative", "axis": {"orient": "left", "values": [860,880,920,940,960,980,1020,1040,1060,1080,1120,1140,1160,1180], "labels": false, "domain": false, "grid": false, "tickSize": -3.5, "title": null}}}},
   {"mark": {"type": "point", "opacity": 0},
    "encoding": {
     "x": {"field": "t", "type": "quantitative", "axis": {"orient": "top", "values": [-80,-70,-60,-40,-30,-20,-10,10,20,30,40,60,70,80,90,110,120,130,140,160,170,180,190,210,220,230,240,260,270,280,290,310], "labels": false, "domain": false, "grid": false, "tickSize": -3.5, "title": null}},
     "y": {"field": "rate", "type": "quantitative", "axis": {"orient": "right", "values": [860,880,920,940,960,980,1020,1040,1060,1080,1120,1140,1160,1180], "labels": false, "domain": false, "grid": false, "tickSize": -3.5, "title": null}}}},
   {"data": {"values": [{}]},
    "mark": {"type": "text", "align": "right", "baseline": "alphabetic", "fontSize": 16, "font": "Liberation Sans", "color": "#000"},
    "encoding": {"x": {"datum": 310.5, "type": "quantitative", "axis": null}, "y": {"datum": 1148, "type": "quantitative", "axis": null}, "text": {"value": "TH3"}}}
  ],
  "resolve": {"axis": {"x": "independent", "y": "independent"}}
 },
 {
  "width": 604, "height": 89,
  "transform": [{"filter": "datum.band === 'TH0123'"}],
  "layer": [
   {"mark": {"type": "errorbar", "ticks": false, "color": "#ff00ff", "opacity": 0.55, "clip": true},
    "encoding": {
     "x": {"field": "t", "type": "quantitative", "scale": {"domain": [-84.6, 315.7], "nice": false, "zero": false}, "axis": {"orient": "bottom", "values": [-50,0,50,100,150,200,250,300], "ticks": false, "domain": false, "grid": false, "labelPadding": 6, "labelFlush": false, "title": "Time [sec] 0 = 2013/04/21 18:36:17", "titlePadding": 4}},
     "y": {"field": "rate", "type": "quantitative", "scale": {"domain": [2537, 3340], "nice": false, "zero": false}, "axis": {"orient": "left", "values": [2600,2800,3000,3200], "format": "d", "ticks": false, "domain": false, "grid": false, "labelPadding": 9, "title": null}},
     "yError": {"field": "err"}}},
   {"mark": {"type": "line", "interpolate": "step", "color": "#ff00ff", "strokeWidth": 1, "clip": true},
    "encoding": {
     "x": {"field": "t", "type": "quantitative", "axis": {"orient": "bottom", "values": [-50,0,50,100,150,200,250,300], "labels": false, "domain": false, "grid": false, "tickSize": -7, "title": null}},
     "y": {"field": "rate", "type": "quantitative", "axis": {"orient": "left", "values": [2600,2800,3000,3200], "labels": false, "domain": false, "grid": false, "tickSize": -7, "title": null}}}},
   {"mark": {"type": "point", "opacity": 0},
    "encoding": {
     "x": {"field": "t", "type": "quantitative", "axis": {"orient": "top", "values": [-50,0,50,100,150,200,250,300], "labels": false, "domain": false, "grid": false, "tickSize": -7, "title": null}},
     "y": {"field": "rate", "type": "quantitative", "axis": {"orient": "right", "values": [2600,2800,3000,3200], "labels": false, "domain": false, "grid": false, "tickSize": -7, "title": null}}}},
   {"mark": {"type": "point", "opacity": 0},
    "encoding": {
     "x": {"field": "t", "type": "quantitative", "axis": {"orient": "bottom", "values": [-80,-70,-60,-40,-30,-20,-10,10,20,30,40,60,70,80,90,110,120,130,140,160,170,180,190,210,220,230,240,260,270,280,290,310], "labels": false, "domain": false, "grid": false, "tickSize": -3.5, "title": null}},
     "y": {"field": "rate", "type": "quantitative", "axis": {"orient": "left", "values": [2550,2650,2700,2750,2850,2900,2950,3050,3100,3150,3250,3300], "labels": false, "domain": false, "grid": false, "tickSize": -3.5, "title": null}}}},
   {"mark": {"type": "point", "opacity": 0},
    "encoding": {
     "x": {"field": "t", "type": "quantitative", "axis": {"orient": "top", "values": [-80,-70,-60,-40,-30,-20,-10,10,20,30,40,60,70,80,90,110,120,130,140,160,170,180,190,210,220,230,240,260,270,280,290,310], "labels": false, "domain": false, "grid": false, "tickSize": -3.5, "title": null}},
     "y": {"field": "rate", "type": "quantitative", "axis": {"orient": "right", "values": [2550,2650,2700,2750,2850,2900,2950,3050,3100,3150,3250,3300], "labels": false, "domain": false, "grid": false, "tickSize": -3.5, "title": null}}}},
   {"data": {"values": [{}]},
    "mark": {"type": "text", "align": "right", "baseline": "alphabetic", "fontSize": 16, "font": "Liberation Sans", "color": "#000"},
    "encoding": {"x": {"datum": 310.5, "type": "quantitative", "axis": null}, "y": {"datum": 3199, "type": "quantitative", "axis": null}, "text": {"value": "TH0123"}}}
  ],
  "resolve": {"axis": {"x": "independent", "y": "independent"}}
 }
],
"config": {
 "font": "Liberation Sans",
 "view": {"stroke": "#000", "strokeWidth": 1.5},
 "axis": {"labelFont": "Liberation Sans", "labelFontSize": 15, "labelColor": "#000", "tickColor": "#000", "tickWidth": 1, "titleFont": "Liberation Sans", "titleFontSize": 15, "titleFontWeight": "normal", "titleColor": "#000"}
}
}
